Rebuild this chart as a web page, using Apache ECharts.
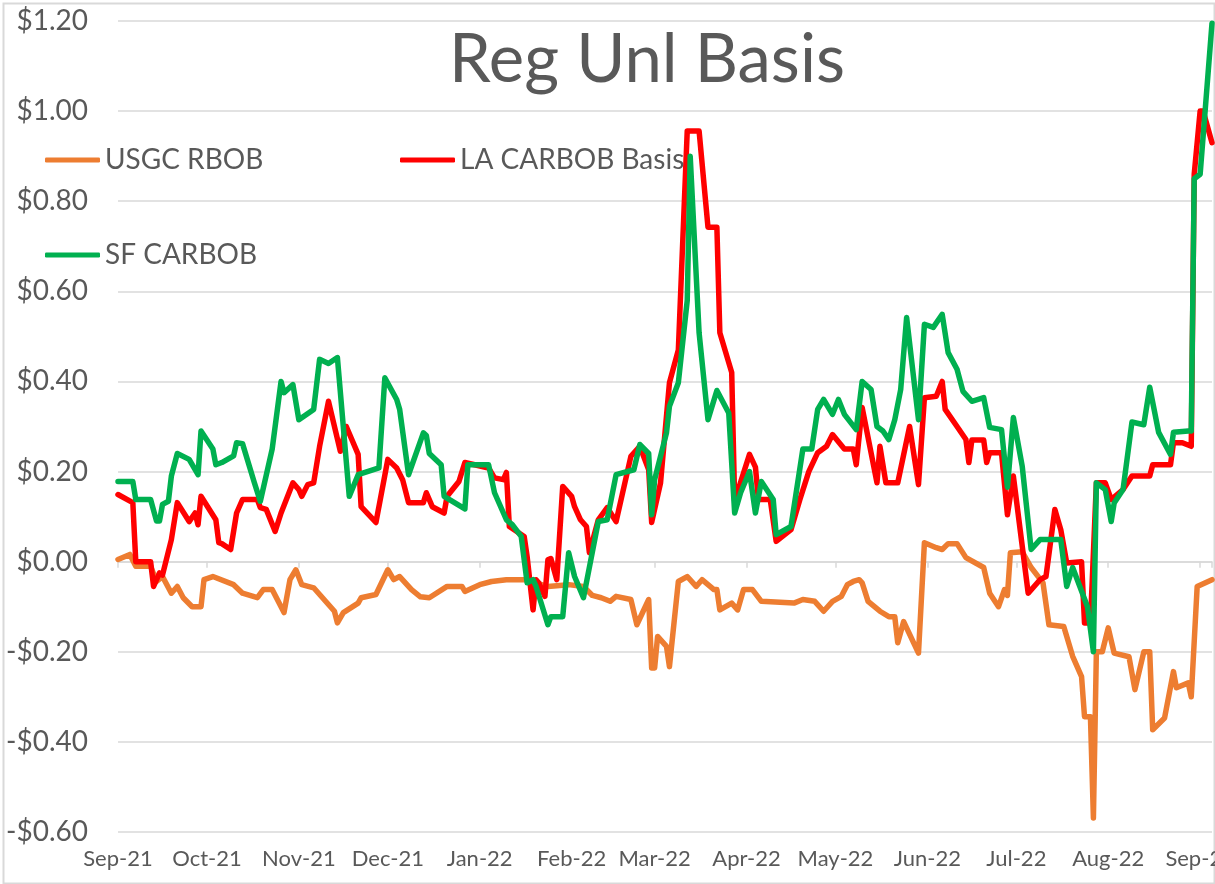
<!DOCTYPE html>
<html>
<head>
<meta charset="utf-8">
<title>Reg Unl Basis</title>
<script src="https://cdn.jsdelivr.net/npm/echarts@6/dist/echarts.min.js"></script>
<style>
  html, body { margin: 0; padding: 0; background: #fff; }
  #main { width: 1215px; height: 884px; }
</style>
</head>
<body>
<div id="main"></div>
<script>
// values, [date, $/gal]
var usgcRbob = [
  ['2021-09-01', 0.005], ['2021-09-05', 0.016], ['2021-09-07', -0.01], ['2021-09-12', -0.01],
  ['2021-09-14', -0.044], ['2021-09-16', -0.033], ['2021-09-19', -0.07], ['2021-09-21', -0.055],
  ['2021-09-23', -0.08], ['2021-09-26', -0.10], ['2021-09-29', -0.10], ['2021-09-30', -0.04],
  ['2021-10-03', -0.033], ['2021-10-10', -0.051], ['2021-10-13', -0.07], ['2021-10-18', -0.08],
  ['2021-10-20', -0.062], ['2021-10-23', -0.062], ['2021-10-27', -0.113], ['2021-10-29', -0.04],
  ['2021-10-31', -0.018], ['2021-11-02', -0.051], ['2021-11-06', -0.058], ['2021-11-13', -0.11],
  ['2021-11-14', -0.136], ['2021-11-16', -0.113], ['2021-11-21', -0.092], ['2021-11-22', -0.08],
  ['2021-11-27', -0.073], ['2021-12-01', -0.018], ['2021-12-03', -0.04], ['2021-12-05', -0.033],
  ['2021-12-09', -0.062], ['2021-12-12', -0.078], ['2021-12-15', -0.08], ['2021-12-21', -0.055],
  ['2021-12-26', -0.055], ['2021-12-27', -0.066], ['2022-01-01', -0.051], ['2022-01-05', -0.044],
  ['2022-01-10', -0.04], ['2022-01-16', -0.04], ['2022-01-24', -0.055], ['2022-01-31', -0.051],
  ['2022-02-05', -0.055], ['2022-02-08', -0.075], ['2022-02-11', -0.08], ['2022-02-14', -0.088],
  ['2022-02-16', -0.077], ['2022-02-21', -0.084], ['2022-02-23', -0.14], ['2022-02-27', -0.084],
  ['2022-02-28', -0.236], ['2022-03-01', -0.236], ['2022-03-02', -0.166], ['2022-03-05', -0.188],
  ['2022-03-06', -0.233], ['2022-03-09', -0.044], ['2022-03-12', -0.033], ['2022-03-15', -0.055],
  ['2022-03-17', -0.04], ['2022-03-21', -0.062], ['2022-03-22', -0.062], ['2022-03-23', -0.107],
  ['2022-03-27', -0.092], ['2022-03-29', -0.107], ['2022-03-31', -0.062], ['2022-04-03', -0.062],
  ['2022-04-06', -0.088], ['2022-04-17', -0.092], ['2022-04-20', -0.084], ['2022-04-24', -0.088],
  ['2022-04-27', -0.11], ['2022-04-30', -0.088], ['2022-05-03', -0.077], ['2022-05-05', -0.051],
  ['2022-05-07', -0.044], ['2022-05-09', -0.04], ['2022-05-10', -0.047], ['2022-05-12', -0.088],
  ['2022-05-16', -0.11], ['2022-05-19', -0.122], ['2022-05-21', -0.122], ['2022-05-22', -0.18],
  ['2022-05-24', -0.133], ['2022-05-29', -0.203], ['2022-05-31', 0.042], ['2022-06-04', 0.031],
  ['2022-06-06', 0.027], ['2022-06-08', 0.04], ['2022-06-11', 0.04], ['2022-06-14', 0.009],
  ['2022-06-20', -0.013], ['2022-06-22', -0.07], ['2022-06-25', -0.10], ['2022-06-27', -0.062],
  ['2022-06-28', -0.075], ['2022-06-29', 0.02], ['2022-07-03', 0.022], ['2022-07-06', -0.013],
  ['2022-07-10', -0.047], ['2022-07-12', -0.14], ['2022-07-17', -0.144], ['2022-07-20', -0.21],
  ['2022-07-23', -0.255], ['2022-07-24', -0.344], ['2022-07-26', -0.344], ['2022-07-27', -0.569],
  ['2022-07-28', -0.2], ['2022-07-30', -0.2], ['2022-08-01', -0.147], ['2022-08-03', -0.203],
  ['2022-08-08', -0.211], ['2022-08-10', -0.284], ['2022-08-13', -0.2], ['2022-08-15', -0.2],
  ['2022-08-16', -0.373], ['2022-08-20', -0.347], ['2022-08-23', -0.244], ['2022-08-24', -0.28],
  ['2022-08-28', -0.269], ['2022-08-29', -0.3], ['2022-08-31', -0.055], ['2022-09-05', -0.04]
];

var laCarbob = [
  ['2021-09-01', 0.149], ['2021-09-06', 0.131], ['2021-09-07', 0.0], ['2021-09-12', 0.0],
  ['2021-09-13', -0.055], ['2021-09-15', -0.025], ['2021-09-16', -0.03], ['2021-09-19', 0.049],
  ['2021-09-21', 0.131], ['2021-09-25', 0.089], ['2021-09-27', 0.108], ['2021-09-28', 0.082],
  ['2021-09-29', 0.145], ['2021-10-04', 0.093], ['2021-10-05', 0.042], ['2021-10-06', 0.04],
  ['2021-10-09', 0.027], ['2021-10-11', 0.108], ['2021-10-13', 0.138], ['2021-10-18', 0.138],
  ['2021-10-19', 0.12], ['2021-10-21', 0.116], ['2021-10-24', 0.067], ['2021-10-26', 0.108],
  ['2021-10-30', 0.175], ['2021-11-01', 0.16], ['2021-11-02', 0.145], ['2021-11-04', 0.171],
  ['2021-11-06', 0.175], ['2021-11-08', 0.256], ['2021-11-11', 0.356], ['2021-11-15', 0.245],
  ['2021-11-17', 0.30], ['2021-11-21', 0.238], ['2021-11-22', 0.122], ['2021-11-27', 0.087],
  ['2021-12-01', 0.227], ['2021-12-04', 0.208], ['2021-12-06', 0.182], ['2021-12-08', 0.131],
  ['2021-12-13', 0.131], ['2021-12-14', 0.153], ['2021-12-16', 0.122], ['2021-12-20', 0.108],
  ['2021-12-21', 0.145], ['2021-12-25', 0.178], ['2021-12-27', 0.22], ['2022-01-04', 0.208],
  ['2022-01-06', 0.186], ['2022-01-09', 0.182], ['2022-01-10', 0.198], ['2022-01-11', 0.078],
  ['2022-01-16', 0.056], ['2022-01-17', 0.011], ['2022-01-19', -0.107], ['2022-01-20', -0.04],
  ['2022-01-21', -0.048], ['2022-01-23', -0.077], ['2022-01-24', 0.004], ['2022-01-25', 0.007],
  ['2022-01-27', -0.04], ['2022-01-29', 0.167], ['2022-02-01', 0.145], ['2022-02-02', 0.122],
  ['2022-02-04', 0.093], ['2022-02-06', 0.078], ['2022-02-07', 0.02], ['2022-02-10', 0.093],
  ['2022-02-13', 0.12], ['2022-02-16', 0.089], ['2022-02-21', 0.234], ['2022-02-24', 0.256],
  ['2022-02-27', 0.204], ['2022-02-28', 0.087], ['2022-03-03', 0.175], ['2022-03-06', 0.397],
  ['2022-03-09', 0.47], ['2022-03-12', 0.956], ['2022-03-16', 0.956], ['2022-03-19', 0.742],
  ['2022-03-22', 0.742], ['2022-03-23', 0.508], ['2022-03-27', 0.42], ['2022-03-28', 0.135],
  ['2022-04-02', 0.238], ['2022-04-04', 0.21], ['2022-04-05', 0.138], ['2022-04-09', 0.138],
  ['2022-04-11', 0.045], ['2022-04-16', 0.071], ['2022-04-19', 0.138], ['2022-04-22', 0.2],
  ['2022-04-25', 0.242], ['2022-04-28', 0.256], ['2022-04-30', 0.282], ['2022-05-04', 0.25],
  ['2022-05-07', 0.25], ['2022-05-08', 0.215], ['2022-05-10', 0.342], ['2022-05-15', 0.175],
  ['2022-05-16', 0.256], ['2022-05-18', 0.175], ['2022-05-22', 0.175], ['2022-05-26', 0.30],
  ['2022-05-29', 0.171], ['2022-05-31', 0.364], ['2022-06-04', 0.367], ['2022-06-06', 0.40],
  ['2022-06-07', 0.338], ['2022-06-11', 0.30], ['2022-06-14', 0.271], ['2022-06-15', 0.22],
  ['2022-06-16', 0.27], ['2022-06-20', 0.27], ['2022-06-21', 0.22], ['2022-06-22', 0.242],
  ['2022-06-26', 0.242], ['2022-06-28', 0.104], ['2022-06-30', 0.19], ['2022-07-05', -0.07],
  ['2022-07-09', -0.04], ['2022-07-11', -0.033], ['2022-07-14', 0.116], ['2022-07-16', 0.071],
  ['2022-07-18', -0.003], ['2022-07-23', 0.0], ['2022-07-24', -0.136], ['2022-07-26', -0.136],
  ['2022-07-28', 0.175], ['2022-07-31', 0.175], ['2022-08-02', 0.138], ['2022-08-06', 0.16],
  ['2022-08-09', 0.19], ['2022-08-15', 0.19], ['2022-08-16', 0.215], ['2022-08-22', 0.215],
  ['2022-08-23', 0.264], ['2022-08-26', 0.264], ['2022-08-29', 0.256], ['2022-08-30', 0.86],
  ['2022-09-01', 1.0], ['2022-09-02', 1.0], ['2022-09-05', 0.93]
];

var sfCarbob = [
  ['2021-09-01', 0.178], ['2021-09-06', 0.178], ['2021-09-07', 0.138], ['2021-09-12', 0.138],
  ['2021-09-14', 0.09], ['2021-09-15', 0.09], ['2021-09-16', 0.127], ['2021-09-18', 0.134],
  ['2021-09-19', 0.19], ['2021-09-21', 0.24], ['2021-09-25', 0.227], ['2021-09-28', 0.193],
  ['2021-09-29', 0.29], ['2021-10-03', 0.25], ['2021-10-04', 0.215], ['2021-10-06', 0.22],
  ['2021-10-10', 0.235], ['2021-10-11', 0.264], ['2021-10-13', 0.262], ['2021-10-17', 0.175],
  ['2021-10-19', 0.134], ['2021-10-23', 0.25], ['2021-10-26', 0.40], ['2021-10-27', 0.375],
  ['2021-10-30', 0.393], ['2021-11-01', 0.315], ['2021-11-06', 0.338], ['2021-11-08', 0.449],
  ['2021-11-11', 0.44], ['2021-11-14', 0.453], ['2021-11-18', 0.145], ['2021-11-21', 0.193],
  ['2021-11-28', 0.208], ['2021-11-30', 0.408], ['2021-12-04', 0.36], ['2021-12-05', 0.338],
  ['2021-12-08', 0.193], ['2021-12-13', 0.286], ['2021-12-14', 0.28], ['2021-12-15', 0.24],
  ['2021-12-19', 0.215], ['2021-12-20', 0.145], ['2021-12-27', 0.117], ['2021-12-28', 0.215],
  ['2022-01-04', 0.215], ['2022-01-06', 0.153], ['2022-01-10', 0.093], ['2022-01-12', 0.082],
  ['2022-01-15', 0.056], ['2022-01-17', -0.047], ['2022-01-19', -0.04], ['2022-01-20', -0.055],
  ['2022-01-24', -0.14], ['2022-01-25', -0.122], ['2022-01-29', -0.122], ['2022-01-31', 0.02],
  ['2022-02-02', -0.033], ['2022-02-05', -0.08], ['2022-02-10', 0.089], ['2022-02-13', 0.093],
  ['2022-02-16', 0.193], ['2022-02-22', 0.204], ['2022-02-24', 0.26], ['2022-02-27', 0.24],
  ['2022-02-28', 0.104], ['2022-03-01', 0.182], ['2022-03-05', 0.286], ['2022-03-06', 0.345],
  ['2022-03-09', 0.397], ['2022-03-12', 0.58], ['2022-03-13', 0.90], ['2022-03-16', 0.508],
  ['2022-03-19', 0.315], ['2022-03-22', 0.38], ['2022-03-26', 0.33], ['2022-03-28', 0.108],
  ['2022-03-30', 0.153], ['2022-04-02', 0.2], ['2022-04-04', 0.108], ['2022-04-06', 0.178],
  ['2022-04-10', 0.138], ['2022-04-11', 0.06], ['2022-04-16', 0.078], ['2022-04-20', 0.25],
  ['2022-04-23', 0.25], ['2022-04-25', 0.338], ['2022-04-27', 0.36], ['2022-04-30', 0.327],
  ['2022-05-02', 0.36], ['2022-05-04', 0.327], ['2022-05-08', 0.293], ['2022-05-10', 0.40],
  ['2022-05-13', 0.382], ['2022-05-15', 0.30], ['2022-05-17', 0.29], ['2022-05-19', 0.271],
  ['2022-05-21', 0.315], ['2022-05-23', 0.382], ['2022-05-25', 0.542], ['2022-05-29', 0.315],
  ['2022-05-31', 0.527], ['2022-06-03', 0.52], ['2022-06-06', 0.549], ['2022-06-08', 0.464],
  ['2022-06-11', 0.427], ['2022-06-13', 0.378], ['2022-06-16', 0.356], ['2022-06-20', 0.364],
  ['2022-06-22', 0.298], ['2022-06-26', 0.293], ['2022-06-28', 0.165], ['2022-06-30', 0.32],
  ['2022-07-03', 0.211], ['2022-07-06', 0.027], ['2022-07-09', 0.049], ['2022-07-16', 0.049],
  ['2022-07-18', -0.055], ['2022-07-20', -0.013], ['2022-07-25', -0.1], ['2022-07-27', -0.2],
  ['2022-07-28', 0.175], ['2022-07-31', 0.16], ['2022-08-02', 0.089], ['2022-08-03', 0.13],
  ['2022-08-06', 0.16], ['2022-08-09', 0.31], ['2022-08-13', 0.304], ['2022-08-15', 0.387],
  ['2022-08-18', 0.287], ['2022-08-22', 0.238], ['2022-08-23', 0.287], ['2022-08-28', 0.29],
  ['2022-08-29', 0.29], ['2022-08-30', 0.85], ['2022-09-01', 0.86], ['2022-09-05', 1.195]
];

var seriesNames = ['USGC RBOB', 'LA CARBOB Basis', 'SF CARBOB'];
var seriesColors = ['#ED7D31', '#FF0000', '#00B050'];
var monthNames = ['Jan', 'Feb', 'Mar', 'Apr', 'May', 'Jun', 'Jul', 'Aug', 'Sep', 'Oct', 'Nov', 'Dec'];
var axisStart = '2021-09-01';
var axisEnd = '2022-09-05';

var font = 'Lato, "Open Sans", sans-serif';
var textGray = '#595959';
var gridGray = '#d9d9d9';
var DAY = 24 * 3600 * 1000;

function dollar(v) {
    if (Math.abs(v) < 1e-9) v = 0;
    return (v < 0 ? '-$' : '$') + Math.abs(v).toFixed(2);
}

function monthLabel(v) {
    var d = new Date(v);
    if (d.getDate() !== 1) return '';
    return monthNames[d.getMonth()] + '-' + String(d.getFullYear()).slice(2);
}

function legendAt(name, left, top) {
    return {
        data: [name], left: left, top: top, padding: 0,
        icon: 'roundRect', itemWidth: 55, itemHeight: 5, itemGap: 0,
        textStyle: { fontFamily: font, fontSize: 28, color: textGray, padding: [0, 0, 0, 0] },
        selectedMode: false
    };
}

var myChart = echarts.init(document.getElementById('main'));
var option = {
    animation: false,
    backgroundColor: '#fff',
    title: {
        text: 'Reg Unl Basis',
        left: 449, top: 27, padding: 0,
        textStyle: { fontFamily: font, fontSize: 67, fontWeight: 'normal', color: textGray }
    },
    legend: [
        legendAt(seriesNames[0], 45, 146),
        legendAt(seriesNames[1], 400, 146),
        legendAt(seriesNames[2], 45, 241)
    ],
    graphic: [{
        type: 'rect', left: 1, top: 1, silent: true,
        shape: { width: 1211, height: 880 },
        style: { fill: 'none', stroke: gridGray, lineWidth: 2 }
    }],
    grid: { left: 118, right: 3, top: 21, bottom: 52, containLabel: false, outerBoundsMode: 'none' },
    xAxis: [{
        type: 'time', min: axisStart, max: axisEnd,
        splitNumber: 12, minInterval: 28 * DAY, maxInterval: 31 * DAY,
        axisLine: { show: false, onZero: false },
        axisTick: { show: false },
        splitLine: { show: false },
        axisLabel: { margin: 16, fontFamily: font, fontSize: 22, color: textGray, formatter: monthLabel }
    }, {
        type: 'time', min: axisStart, max: axisEnd, position: 'bottom',
        splitNumber: 12, minInterval: 28 * DAY, maxInterval: 31 * DAY,
        axisLine: { show: true, onZero: true, lineStyle: { color: gridGray, width: 1.5 } },
        axisTick: { show: true, length: 6, lineStyle: { color: gridGray, width: 1.5 } },
        axisLabel: { show: false },
        splitLine: { show: false }
    }],
    yAxis: {
        type: 'value', min: -0.6, max: 1.2, interval: 0.2,
        axisLine: { show: false },
        axisTick: { show: false },
        splitLine: { lineStyle: { color: gridGray, width: 1.5 } },
        axisLabel: { margin: 30, fontFamily: font, fontSize: 28, color: textGray, formatter: dollar }
    },
    series: [usgcRbob, laCarbob, sfCarbob].map(function (data, i) {
        return {
            name: seriesNames[i],
            type: 'line',
            data: data,
            symbol: 'none',
            z: 2 + i,
            color: seriesColors[i],
            lineStyle: { width: 5.5, color: seriesColors[i], cap: 'round', join: 'round' }
        };
    })
};
myChart.setOption(option);
</script>
</body>
</html>
